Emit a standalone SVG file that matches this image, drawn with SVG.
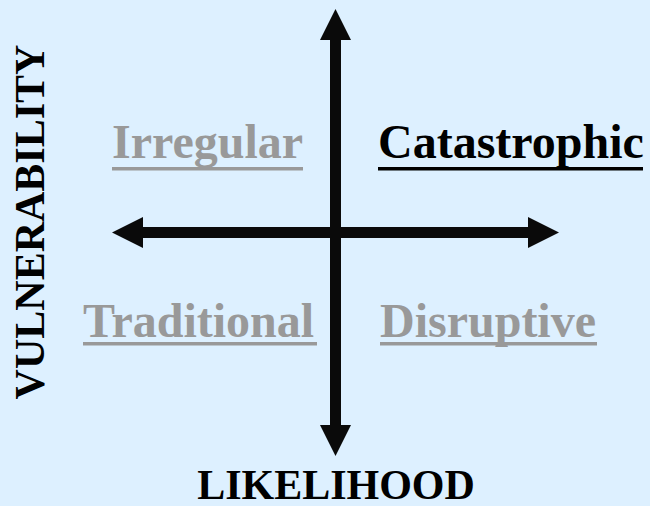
<svg xmlns="http://www.w3.org/2000/svg" width="650" height="506" viewBox="0 0 650 506">
  <style>
    .lbl { font-family: "Liberation Serif", "Times New Roman", serif; font-weight: bold; font-size: 48px; }
    .gray { fill: #999999; }
    .blk { fill: #000000; }
    .axis { font-family: "Liberation Serif", "Times New Roman", serif; font-weight: bold; font-size: 42px; fill: #000000; }
    .ul-gray { fill: #999999; }
    .ul-blk { fill: #000000; }
    .arrow { stroke: #0a0a0a; stroke-width: 11; fill: none; }
  </style>
  <defs>
    <marker id="head" viewBox="0 0 31 31" markerWidth="31" markerHeight="31" refX="0" refY="15.5" orient="auto-start-reverse" markerUnits="userSpaceOnUse">
      <path d="M0,0 L31,15.5 L0,31 Z" fill="#0a0a0a"/>
    </marker>
  </defs>
  <rect x="0" y="0" width="650" height="506" fill="#DDF0FF"/>
  <g id="connectors">
    <line class="arrow" x1="335.5" y1="40" x2="335.5" y2="425" marker-start="url(#head)" marker-end="url(#head)"/>
    <line class="arrow" x1="143" y1="232.5" x2="528" y2="232.5" marker-start="url(#head)" marker-end="url(#head)"/>
  </g>
  <g id="irregular">
    <text class="lbl gray" x="112" y="158">Irregular</text>
    <rect class="ul-gray" x="112" y="167" width="191" height="3.5"/>
  </g>
  <g id="catastrophic">
    <text class="lbl blk" x="378" y="158">Catastrophic</text>
    <rect class="ul-blk" x="378" y="167" width="265" height="3.5"/>
  </g>
  <g id="traditional">
    <text class="lbl gray" x="83" y="337">Traditional</text>
    <rect class="ul-gray" x="83" y="342" width="234" height="3.5"/>
  </g>
  <g id="disruptive">
    <text class="lbl gray" x="380" y="337">Disruptive</text>
    <rect class="ul-gray" x="380" y="342" width="217" height="3.5"/>
  </g>
  <g id="vulnerability">
    <text class="axis" text-anchor="middle" transform="translate(44,222) rotate(-90)">VULNERABILITY</text>
  </g>
  <g id="likelihood">
    <text class="axis" text-anchor="middle" x="336" y="499">LIKELIHOOD</text>
  </g>
</svg>
